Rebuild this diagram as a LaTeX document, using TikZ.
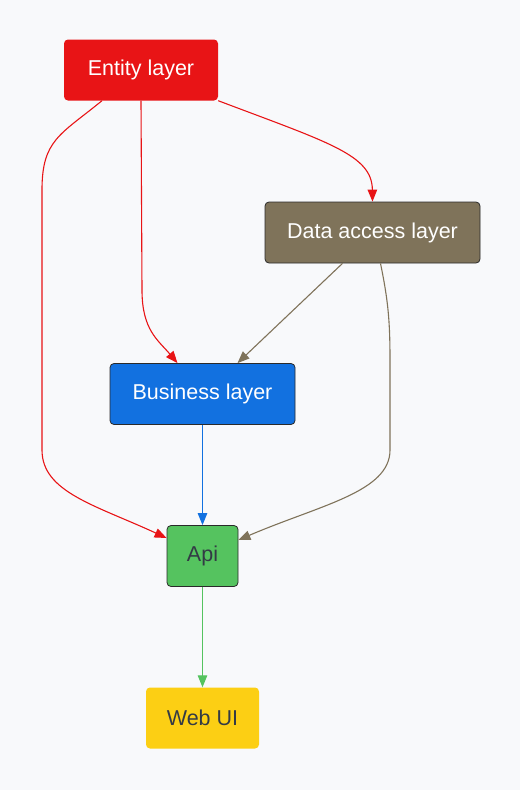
\documentclass[tikz,border=0pt]{standalone}
\usepackage{fontspec}
\setmainfont{Liberation Sans}
\usetikzlibrary{arrows.meta}
\definecolor{fundo}{HTML}{F8F9FB}
\definecolor{entcor}{HTML}{E81416}
\definecolor{dalcor}{HTML}{7F735A}
\definecolor{buscor}{HTML}{1271E0}
\definecolor{apicor}{HTML}{55C35F}
\definecolor{webcor}{HTML}{FCCF14}
\definecolor{borda}{HTML}{2A2A2A}
\definecolor{textoesc}{HTML}{333A45}
\tikzset{
  camada/.style={rounded corners=4pt,inner sep=0pt,minimum height=61pt,font=\fontsize{21.5}{25}\selectfont},
  contorno/.style={draw=borda,line width=0.8pt},
  seta/.style={line width=1.1pt,-{Triangle[length=12pt,width=9.5pt]}},
}
\begin{document}
\begin{tikzpicture}[x=1pt,y=-1pt]
  % fundo
  \fill[fundo] (0,0) rectangle (520,790);
  \useasboundingbox (0,0) rectangle (520,790);
  % camadas
  \node[camada,fill=entcor,text=white,minimum width=154pt] (entity) at (141,70) {Entity layer};
  \node[camada,contorno,fill=dalcor,text=white,minimum width=215pt] (dal) at (372.5,232.5) {Data access layer};
  \node[camada,contorno,fill=buscor,text=white,minimum width=185pt] (business) at (202.5,394) {Business layer};
  \node[camada,contorno,fill=apicor,text=textoesc,minimum width=71pt] (api) at (202.5,556) {Api};
  \node[camada,fill=webcor,text=textoesc,minimum width=113pt] (webui) at (202.5,718) {Web UI};
  % ligacoes
  \draw[seta,entcor] (entity.south east) .. controls (330,143) and (372,155) .. (dal.north);
  \draw[seta,entcor] (entity.south) -- (142,290) .. controls (142,330) and (158,340) .. ([xshift=-25pt]business.north);
  \draw[seta,entcor] ([xshift=-39pt]entity.south) .. controls (60,135) and (42,140) .. (42,190) -- (42,450) .. controls (42,492) and (95,505) .. ([yshift=18pt]api.west);
  \draw[seta,dalcor] ([xshift=-30pt]dal.south) -- ([xshift=35pt]business.north);
  \draw[seta,dalcor] ([xshift=8pt]dal.south) .. controls (388,300) and (390,320) .. (390,360) -- (390,450) .. controls (390,492) and (320,505) .. ([yshift=16pt]api.east);
  \draw[seta,buscor] (business.south) -- (api.north);
  \draw[seta,apicor] (api.south) -- (webui.north);
\end{tikzpicture}
\end{document}
